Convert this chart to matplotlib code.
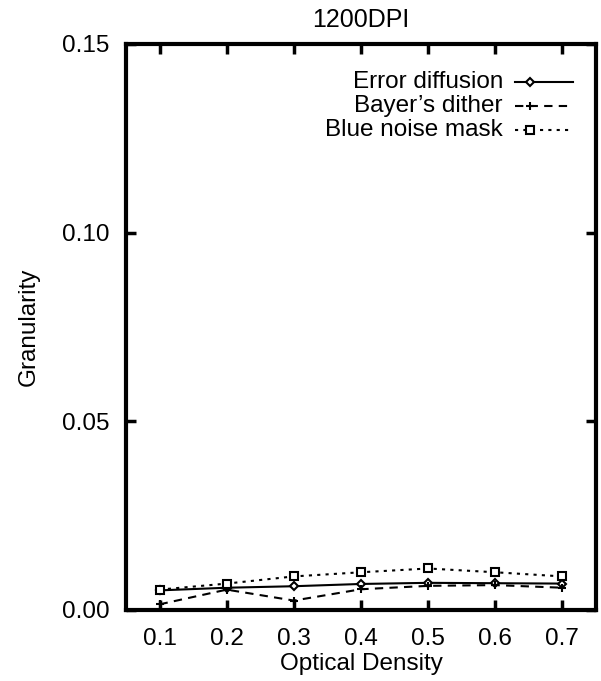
import matplotlib
matplotlib.use("Agg")
import matplotlib.pyplot as plt

plt.rcParams['font.family'] = ['Liberation Sans', 'DejaVu Sans']

density = [0.1, 0.2, 0.3, 0.4, 0.5, 0.6, 0.7]
error_diffusion = [0.0052, 0.0059, 0.0063, 0.0069, 0.0072, 0.0071, 0.0070]
bayer_dither = [0.0015, 0.0054, 0.0025, 0.0055, 0.0064, 0.0066, 0.0059]
blue_noise = [0.0054, 0.0070, 0.0089, 0.0100, 0.0110, 0.0100, 0.0089]
labels = ["Error diffusion", "Bayer\u2019s dither", "Blue noise mask"]
xticks = [0.1, 0.2, 0.3, 0.4, 0.5, 0.6, 0.7]
yticks = [0.00, 0.05, 0.10, 0.15]

FS = 17.5
fig = plt.figure(figsize=(6.01, 6.81), dpi=100)
ax = fig.add_axes([126/601, 1-610/681, (596-126)/601, (610-44)/681])

series = [
    (error_diffusion, '-', 'D', dict(markersize=4, markerfacecolor='white')),
    (bayer_dither, (0, (4, 3)), '+', dict(markersize=6)),
    (blue_noise, (0, (1.5, 2.5)), 's', dict(markersize=5.5, markerfacecolor='white')),
]
for vals, ls, mk, kw in series:
    ax.plot(density, vals, color='black', linestyle=ls, linewidth=1.5,
            marker=mk, markeredgecolor='black', markeredgewidth=1.5, **kw)

ax.set_xlim(0.05, 0.75)
ax.set_ylim(0, 0.15)
ax.set_xticks(xticks)
ax.set_xticklabels([f"{v:.1f}" for v in xticks])
ax.set_yticks(yticks)
ax.set_yticklabels([f"{v:.2f}" for v in yticks])
ax.tick_params(direction='in', length=7, width=2.5, top=True, right=True,
               labelsize=FS)
ax.tick_params(axis='y', pad=12)
ax.tick_params(axis='x', pad=13)
for s in ax.spines.values():
    s.set_linewidth(3)

ax.set_xlabel("Optical Density", fontsize=FS, labelpad=2)
ax.set_ylabel("Granularity", fontsize=FS, labelpad=16)
ax.set_title("1200DPI", fontsize=FS + 0.5, pad=12)

# manual gnuplot-style legend (text right aligned, sample to the right)
tr = ax.transAxes
def ax_x(px):
    return (px - 126) / (596 - 126)
def ax_y(py):
    return (610 - py) / (610 - 44)
rows = [82, 106, 130]
for (vals, ls, mk, kw), lab, py in zip(series, labels, rows):
    ax.text(ax_x(503), ax_y(py), lab, transform=tr, ha='right', va='center',
            fontsize=FS)
    ax.plot([ax_x(515), ax_x(573)], [ax_y(py)] * 2, transform=tr,
            color='black', linestyle=ls, linewidth=1.5, clip_on=False)
    ax.plot([ax_x(530)], [ax_y(py)], transform=tr, color='black',
            marker=mk, markeredgecolor='black', markeredgewidth=1.5,
            linestyle='none', clip_on=False, **kw)

fig.savefig("out.png", dpi=100)
